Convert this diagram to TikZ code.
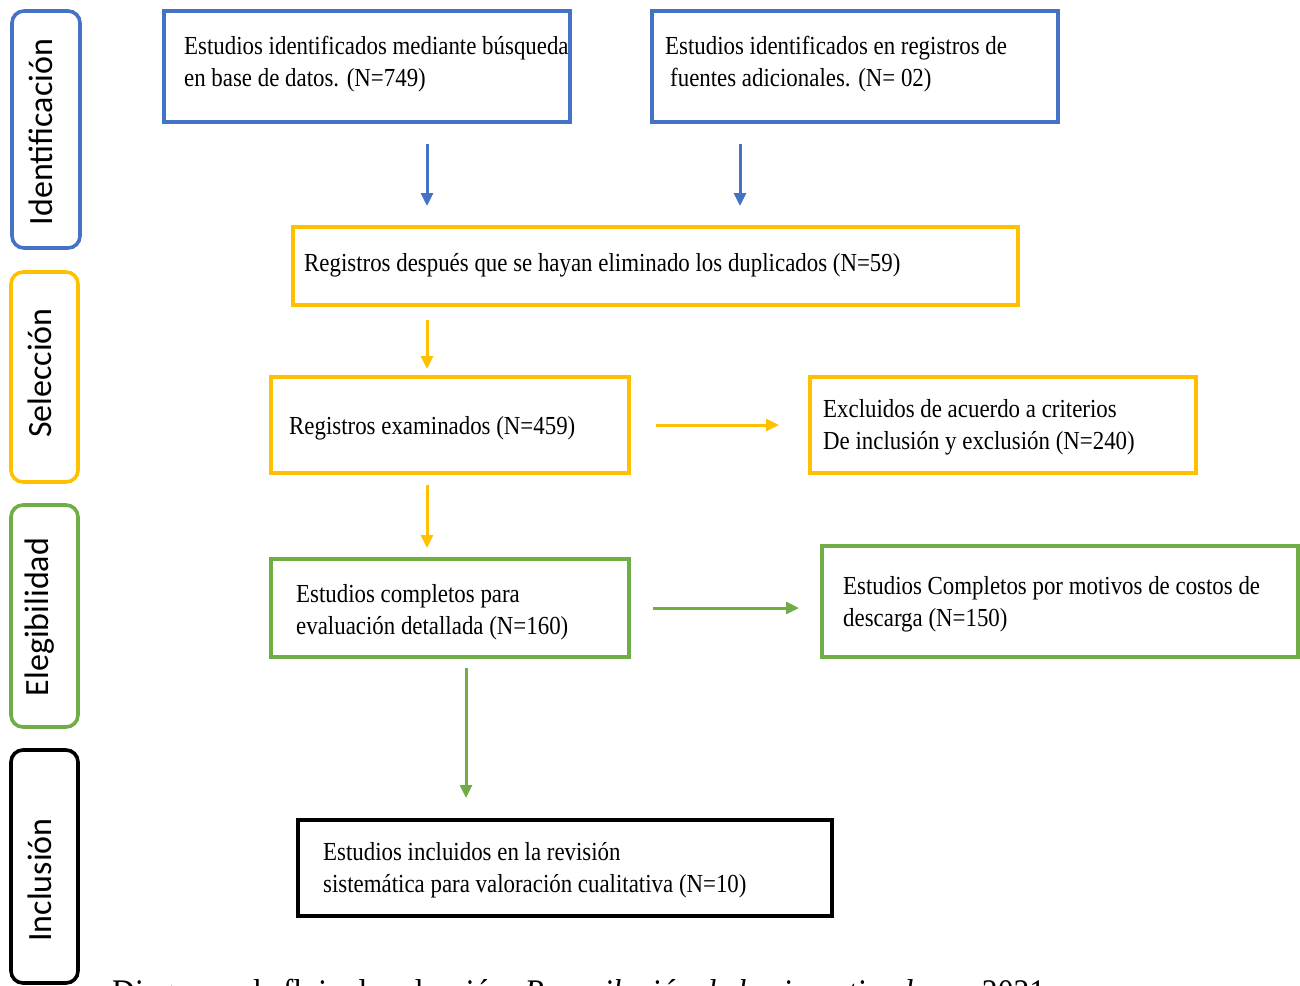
\documentclass[tikz,border=0pt]{standalone}
\usepackage{fontspec}
\setmainfont[FakeStretch=0.88]{Liberation Serif}
\newfontfamily\sidefont{Carlito}
\usetikzlibrary{arrows.meta}
\definecolor{pblue}{HTML}{4472C4}
\definecolor{pyellow}{HTML}{FFC000}
\definecolor{pgreen}{HTML}{70AD47}
\tikzset{
  box/.style={draw, line width=3.2pt, inner sep=0pt},
  bbox/.style={box, draw=pblue},
  ybox/.style={box, draw=pyellow},
  gbox/.style={box, draw=pgreen},
  kbox/.style={box, draw=black},
  txt/.style={anchor=west, align=left, inner sep=0pt, font=\fontsize{26}{32}\selectfont},
  side/.style={draw, line width=3.6pt, rounded corners=12pt, inner sep=0pt},
  sidetxt/.style={rotate=90, inner sep=0pt, font=\sidefont\fontsize{34}{36}\selectfont},
  arr/.style={line width=3pt, -{Triangle[length=13pt,width=12pt]}},
}
\begin{document}
\begin{tikzpicture}[x=1pt,y=-1pt]
\useasboundingbox (0,0) rectangle (1300,985);
% side phase labels
\node[side, draw=pblue, minimum width=68pt, minimum height=237pt] (s1) at (46,129.5) {};
\node[sidetxt] (s1t) at (41,132) {Identificación};
\node[side, draw=pyellow, minimum width=67pt, minimum height=210pt] (s2) at (44.5,377) {};
\node[sidetxt] (s2t) at (39.5,373) {Selección};
\node[side, draw=pgreen, minimum width=67pt, minimum height=222pt] (s3) at (44.5,616) {};
\node[sidetxt] (s3t) at (39.5,617) {Elegibilidad};
\node[side, draw=black, minimum width=67pt, minimum height=233pt] (s4) at (44.5,866.5) {};
\node[sidetxt] (s4t) at (39.5,880) {Inclusión};

% boxes
\node[bbox, minimum width=406pt, minimum height=111pt] (b1) at (367,66.5) {};
\node[txt] (b1t) at (184,64) {Estudios identificados mediante búsqueda\\en base de datos. (N=749)};
\node[bbox, minimum width=406pt, minimum height=111pt] (b2) at (855,66.5) {};
\node[txt] (b2t) at (665,64) {Estudios identificados en registros de\\\hspace*{5pt}fuentes adicionales. (N= 02)};

\node[ybox, minimum width=725pt, minimum height=78pt] (y1) at (655.5,266) {};
\node[txt] (y1t) at (304,265) {Registros después que se hayan eliminado los duplicados (N=59)};

\node[ybox, minimum width=358pt, minimum height=96pt] (y2) at (450,425) {};
\node[txt] (y2t) at (289,428) {Registros examinados (N=459)};
\node[ybox, minimum width=386pt, minimum height=96pt] (y3) at (1003,425) {};
\node[txt] (y3t) at (823,427) {Excluidos de acuerdo a criterios\\De inclusión y exclusión (N=240)};

\node[gbox, minimum width=358pt, minimum height=98pt] (g1) at (450,608) {};
\node[txt] (g1t) at (296,612) {Estudios completos para\\evaluación detallada (N=160)};
\node[gbox, minimum width=476pt, minimum height=111pt] (g2) at (1060,601.5) {};
\node[txt] (g2t) at (843,604) {Estudios Completos por motivos de costos de\\descarga (N=150)};

\node[kbox, minimum width=534pt, minimum height=96pt] (k1) at (565,868) {};
\node[txt] (k1t) at (323,870) {Estudios incluidos en la revisión\\sistemática para valoración cualitativa (N=10)};

% arrows (free-floating, as in the reference)
\coordinate (a1s) at (427,144); \coordinate (a1e) at (427,206);
\coordinate (a2s) at (740,144); \coordinate (a2e) at (740,206);
\coordinate (a3s) at (427,320); \coordinate (a3e) at (427,369);
\coordinate (a4s) at (656,425); \coordinate (a4e) at (779,425);
\coordinate (a5s) at (427,485); \coordinate (a5e) at (427,548);
\coordinate (a6s) at (653,608); \coordinate (a6e) at (799,608);
\coordinate (a7s) at (466,668); \coordinate (a7e) at (466,798);
\draw[arr, pblue] (a1s) -- (a1e);
\draw[arr, pblue] (a2s) -- (a2e);
\draw[arr, pyellow] (a3s) -- (a3e);
\draw[arr, pyellow] (a4s) -- (a4e);
\draw[arr, pyellow] (a5s) -- (a5e);
\draw[arr, pgreen] (a6s) -- (a6e);
\draw[arr, pgreen] (a7s) -- (a7e);

% caption (cut by the page edge, as in the reference)
\node[anchor=base west, inner sep=0pt, font=\fontsize{36}{38}\selectfont] (cap) at (112,1004) {Diagrama de flujo de selección. \textit{Recopilación de los investigadores}, 2021};
\end{tikzpicture}
\end{document}
